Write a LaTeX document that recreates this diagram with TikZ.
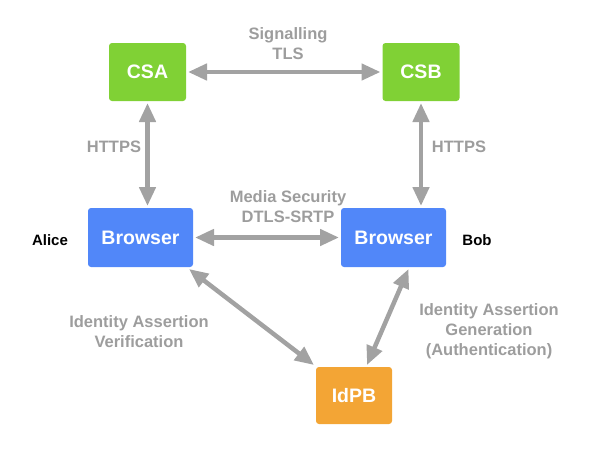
\documentclass[tikz,border=0pt]{standalone}
\usepackage{fontspec}
\setmainfont{Liberation Sans}
\usetikzlibrary{arrows.meta, calc}
\definecolor{csgreen}{HTML}{80D135}
\definecolor{brblue}{HTML}{5187F9}
\definecolor{idorange}{HTML}{F3A535}
\definecolor{wiregray}{HTML}{A2A2A2}
\definecolor{textgray}{HTML}{9D9D9D}
\tikzset{
    my-box/.style={
        draw=none, rounded corners=3pt, text=white, outer sep=2pt,
        font=\fontsize{19.5}{22}\selectfont\bfseries
    },
    my-server/.style={
        my-box, fill=csgreen, minimum width=77pt, minimum height=58pt
    },
    my-browser/.style={
        my-box, fill=brblue, minimum width=105pt, minimum height=59pt
    },
    my-idp/.style={
        my-box, fill=idorange, minimum width=76pt, minimum height=57pt
    },
    my-link/.style={
        draw=wiregray, line width=4.5pt,
        {Triangle[length=19pt, width=16pt]}-{Triangle[length=19pt, width=16pt]}
    },
    my-label/.style={
        text=textgray, align=center, inner sep=0pt,
        font=\fontsize{16.5}{20}\selectfont\bfseries
    },
    my-user/.style={
        text=black, inner sep=0pt, font=\fontsize{15}{18}\selectfont\bfseries
    },
}

\begin{document}
\begin{tikzpicture}[x=1pt, y=-1pt]

        \useasboundingbox (0,0) rectangle (602,464);

        % SIGNALLING SERVERS
        \node[my-server] (CSA) at (147.5,72) {CSA};
        \node[my-server] (CSB) at (421,72)   {CSB};

        % BROWSERS
        \node[my-browser] (BRA) at (140.5,237.5) {Browser};
        \node[my-browser] (BRB) at (393.5,237.5) {Browser};

        % IDENTITY PROVIDER
        \node[my-idp] (IDPB) at (354,395.5) {IdPB};

        % USERS
        \node[my-user] (ALICE) at ($(BRA.west) + (-36, 2.5)$) {Alice};
        \node[my-user] (BOB)   at ($(BRB.east) + (29, 2.5)$)  {Bob};

        % CONNECTOR POINTS
        \coordinate (BRAOUT) at ($(BRA.south east) + (-6, 0)$);
        \coordinate (BRBOUT) at ($(BRB.south) + (15, 0)$);
        \coordinate (IDPBIN) at ($(IDPB.north) + (13, 0)$);

        % WIRES
        \draw[my-link] (CSA) -- (CSB);
        \draw[my-link] (CSA.south) -- (CSA.south |- BRA.north);
        \draw[my-link] (CSB.south) -- (CSB.south |- BRB.north);
        \draw[my-link] (BRA) -- (BRB);
        \draw[my-link] (BRAOUT) -- (IDPB.north west);
        \draw[my-link] (BRBOUT) -- (IDPBIN);

        % LABELS
        \node[my-label] (SIG)   at (288,44)  {Signalling\\TLS};
        \node[my-label] (MEDIA) at (288,207) {Media Security\\DTLS-SRTP};
        \node[my-label] (HTA)   at (114,147) {HTTPS};
        \node[my-label] (HTB)   at (459,147) {HTTPS};
        \node[my-label] (VER)   at (139,332) {Identity Assertion\\Verification};
        \node[my-label] (GEN)   at (489,331) {Identity Assertion\\Generation\\(Authentication)};

    \end{tikzpicture}
\end{document}
